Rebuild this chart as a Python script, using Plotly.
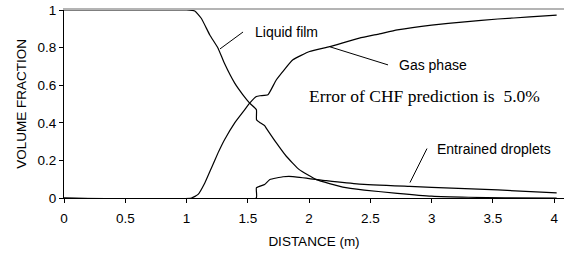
import plotly.graph_objects as go

# ---- data ----
liquid_x = [0, 1.0, 1.067, 1.12, 1.19, 1.257, 1.31, 1.393, 1.46, 1.515, 1.57, 1.571, 1.6, 1.637, 1.65,
            1.733, 1.814, 1.92, 2.06, 2.275, 2.45, 2.72, 3.0, 3.3, 3.6, 4.02]
liquid_y = [1, 1, 0.995, 0.956, 0.867, 0.797, 0.715, 0.611, 0.549, 0.505, 0.47, 0.416, 0.40, 0.385, 0.372,
            0.293, 0.222, 0.151, 0.098, 0.058, 0.042, 0.025, 0.01, 0.004, 0.001, 0.0]

gas_x = [0, 1.04, 1.094, 1.149, 1.203, 1.257, 1.31, 1.393, 1.475, 1.515, 1.57, 1.60, 1.664, 1.733,
         1.868, 2.004, 2.167, 2.41, 2.574, 2.72, 3.0, 3.27, 3.54, 3.8, 4.02]
gas_y = [0, 0, 0.019, 0.08, 0.16, 0.24, 0.31, 0.40, 0.47, 0.505, 0.54, 0.544, 0.549, 0.629,
         0.735, 0.779, 0.805, 0.85, 0.873, 0.894, 0.92, 0.937, 0.952, 0.963, 0.973]

drop_x = [0, 1.569, 1.57, 1.637, 1.68, 1.787, 1.868, 2.14, 2.41, 2.82, 3.0, 3.54, 4.02]
drop_y = [0, 0, 0.054, 0.072, 0.098, 0.113, 0.114, 0.092, 0.074, 0.062, 0.057, 0.043, 0.027]

x_ticks = [0, 0.5, 1, 1.5, 2, 2.5, 3, 3.5, 4]
x_tick_labels = ["0", "0.5", "1", "1.5", "2", "2.5", "3", "3.5", "4"]
y_ticks = [0, 0.2, 0.4, 0.6, 0.8, 1]
y_tick_labels = ["0", "0.2", "0.4", "0.6", "0.8", "1"]

SANS = "Liberation Sans, Arial, sans-serif"
SERIF = "Liberation Serif, Times New Roman, serif"

fig = go.Figure()
for xs, ys, name in [(liquid_x, liquid_y, "Liquid film"),
                     (gas_x, gas_y, "Gas phase"),
                     (drop_x, drop_y, "Entrained droplets")]:
    fig.add_trace(go.Scatter(x=xs, y=ys, mode="lines", name=name,
                             line=dict(color="black", width=1.2, shape="spline", smoothing=0.4),
                             showlegend=False, hoverinfo="skip", cliponaxis=False))

# pointer lines
pointers = [
    (1.273, 0.793, 1.461, 0.883),
    (2.171, 0.804, 2.644, 0.708),
    (2.823, 0.082, 2.962, 0.263),
]
for x0, y0, x1, y1 in pointers:
    fig.add_shape(type="line", xref="x", yref="y", x0=x0, y0=y0, x1=x1, y1=y1,
                  line=dict(color="black", width=1))

labels = [
    (1.542, 0.883, "Liquid film"),
    (2.717, 0.708, "Gas phase"),
    (3.027, 0.263, "Entrained droplets"),
]
for x, y, t in labels:
    fig.add_annotation(x=x, y=y, text=t, showarrow=False, xanchor="left", yanchor="middle",
                       font=dict(family=SANS, size=14, color="black"))

fig.add_annotation(x=1.98, y=0.544, text="Error of CHF prediction is\u00a0\u00a05.0%",
                   showarrow=False, xanchor="left", yanchor="middle",
                   font=dict(family=SERIF, size=17.5, color="black"))

fig.update_layout(
    width=565, height=254,
    margin=dict(l=64, r=1, t=10, b=56, autoexpand=False),
    paper_bgcolor="white", plot_bgcolor="white",
    font=dict(family=SANS, size=13, color="black"),
    xaxis=dict(range=[0, 4.08], tickvals=x_ticks, ticktext=x_tick_labels,
               showgrid=False, zeroline=False, showline=True, linecolor="black", linewidth=1,
               ticks="outside", ticklen=4, tickcolor="black", ticklabelstandoff=4,
               title=dict(text="DISTANCE (m)", standoff=11, font=dict(size=13.5)),
               tickfont=dict(size=13.5)),
    # overlaid top axis used only to draw the light-grey top border
    xaxis2=dict(overlaying="x", side="top", matches="x", showline=True, linecolor="#b4b4b4",
                linewidth=1.5, showticklabels=False, ticks="", showgrid=False, zeroline=False),
    yaxis=dict(range=[0, 1], tickvals=y_ticks, ticktext=y_tick_labels,
               showgrid=False, zeroline=False, showline=True, linecolor="black", linewidth=1,
               ticks="outside", ticklen=4, tickcolor="black",
               title=dict(text="VOLUME FRACTION", standoff=7, font=dict(size=13.5)),
               tickfont=dict(size=13.5)),
)

# a hidden helper trace so the top axis is drawn
fig.add_trace(go.Scatter(x=[0, 4.08], y=[None, None], xaxis="x2", mode="lines",
                         showlegend=False, hoverinfo="skip"))

# remove the browser's default 8px body margin so the figure sits at the page origin
fig.write_html("out.html", post_script="document.body.style.margin='0';",
               config={"displayModeBar": False})
